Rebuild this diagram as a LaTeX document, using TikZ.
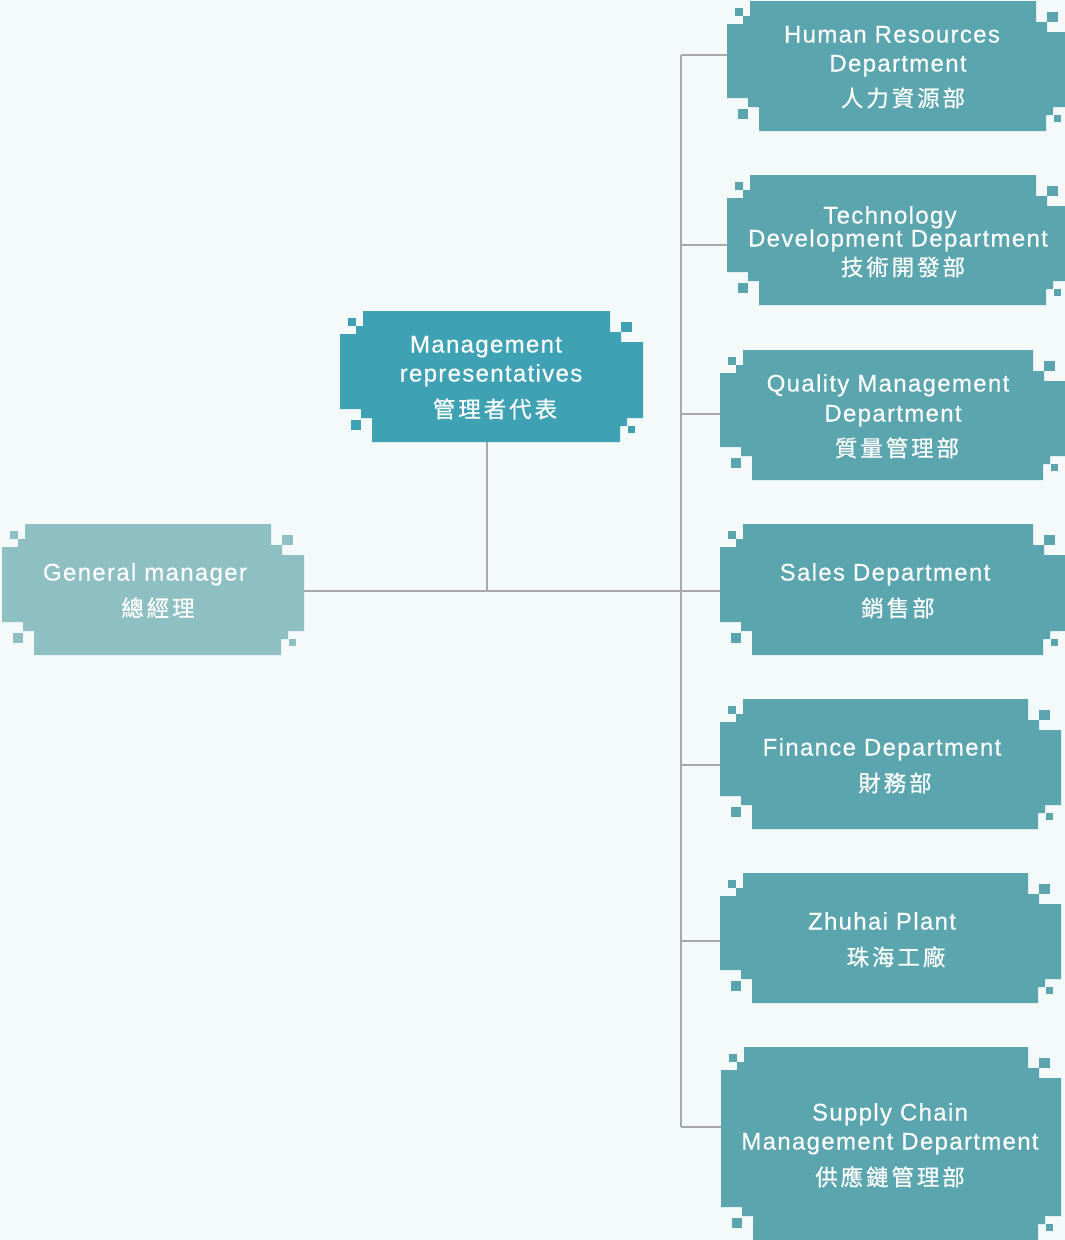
\documentclass[tikz,border=0pt]{standalone}
\usepackage{fontspec}
\setmainfont{Liberation Sans}
\newfontfamily\entxt[LetterSpace=5.5,FakeBold=0.35]{Liberation Sans}
\newfontfamily\cjktxt[LetterSpace=13,FakeBold=0.5]{Noto Sans CJK TC}
\usetikzlibrary{fit}
\definecolor{bgc}{HTML}{F3FAF9}
\definecolor{dept}{HTML}{5BA5AE}
\definecolor{rep}{HTML}{3FA2B4}
\definecolor{gmc}{HTML}{8EBFC3}
\definecolor{linec}{HTML}{A8A8A8}
\newcommand\orgshape[6]{%
 \fill[#6] ({#2+23},#3) -- ({#4-33},#3) -- ({#4-33},{#3+21}) -- ({#4-22},{#3+21}) -- ({#4-22},{#3+31}) -- (#4,{#3+31}) -- (#4,{#5-24}) -- ({#4-16},{#5-24}) -- ({#4-16},{#5-16}) -- ({#4-23},{#5-16}) -- ({#4-23},#5) -- ({#2+32},#5) -- ({#2+32},{#5-24}) -- ({#2+21},{#5-24}) -- ({#2+21},{#5-33}) -- (#2,{#5-33}) -- (#2,{#3+23}) -- ({#2+16},{#3+23}) -- ({#2+16},{#3+15}) -- ({#2+23},{#3+15}) -- cycle;
 \fill[#6] ({#2+8},{#3+7}) rectangle ({#2+16},{#3+15});
 \fill[#6] ({#4-22},{#3+11}) rectangle ({#4-11},{#3+21});
 \fill[#6] ({#2+11},{#5-22}) rectangle ({#2+21},{#5-12});
 \fill[#6] ({#4-15},{#5-16}) rectangle ({#4-8},{#5-9});
 \path (#2,#3) coordinate (#1-nw) (#4,#5) coordinate (#1-se);
 \node[fit=(#1-nw)(#1-se), inner sep=0pt] (#1) {};
}
\tikzset{
 en/.style={text=white, anchor=base, inner sep=0pt, font=\entxt\fontsize{24}{28}\selectfont},
 zh/.style={text=white, anchor=base, inner sep=0pt, font=\cjktxt\fontsize{22.5}{26}\selectfont},
 conn/.style={draw=linec, line width=1.5pt},
}
\begin{document}
\begin{tikzpicture}[x=1pt,y=-1pt]
\fill[bgc] (0,0) rectangle (1065,1240);
\useasboundingbox (0,0) rectangle (1065,1240);
% boxes
\orgshape{hr}{727}{1}{1069}{131}{dept}
\orgshape{tech}{727}{175}{1069}{305}{dept}
\orgshape{qm}{720}{350}{1066}{480}{dept}
\orgshape{sales}{720}{524}{1066}{655}{dept}
\orgshape{fin}{720}{699}{1061}{829}{dept}
\orgshape{zh}{720}{873}{1061}{1003}{dept}
\orgshape{scm}{721}{1047}{1061}{1240}{dept}
\orgshape{lm}{340}{311}{643}{442}{rep}
\orgshape{gm}{2}{524}{304}{655}{gmc}
% connectors
\coordinate (jtop) at (681,55);
\coordinate (jtech) at (681,245);
\coordinate (jqm) at (681,414);
\coordinate (jfin) at (681,765);
\coordinate (jzh) at (681,941);
\coordinate (jbot) at (681,1127);
\coordinate (jlm) at (487,591);
\draw[conn] (jtop) -- (jbot);
\draw[conn] (jtop) -- (jtop -| hr.west);
\draw[conn] (jtech) -- (jtech -| tech.west);
\draw[conn] (jqm) -- (jqm -| qm.west);
\draw[conn] (jfin) -- (jfin -| fin.west);
\draw[conn] (jzh) -- (jzh -| zh.west);
\draw[conn] (jbot) -- (jbot -| scm.west);
\draw[conn] (jlm -| gm.east) -- (jlm -| sales.west);
\draw[conn] (jlm |- lm.south) -- (jlm);
% texts
\node[en] (t-hr1) at (892,42.5) {Human Resources};
\node[en] (t-hr2) at (898,71.5) {Department};
\node[zh] (t-hr3) at (903,106.5) {人力資源部};
\node[en] (t-te1) at (890,223.5) {Technology};
\node[en] (t-te2) at (898,246.5) {Development Department};
\node[zh] (t-te3) at (903,275.5) {技術開發部};
\node[en] (t-qm1) at (888,391.5) {Quality Management};
\node[en] (t-qm2) at (893,421.5) {Department};
\node[zh] (t-qm3) at (897,456.5) {質量管理部};
\node[en] (t-sa1) at (885,580.5) {Sales Department};
\node[zh] (t-sa2) at (898,616.5) {銷售部};
\node[en] (t-fi1) at (882,755.5) {Finance Department};
\node[zh] (t-fi2) at (895,791.5) {財務部};
\node[en] (t-zh1) at (882,929.5) {Zhuhai Plant};
\node[zh] (t-zh2) at (896,965.5) {珠海工廠};
\node[en] (t-sc1) at (890,1120.5) {Supply Chain};
\node[en] (t-sc2) at (890,1149.5) {Management Department};
\node[zh] (t-sc3) at (890,1185.5) {供應鏈管理部};
\node[en] (t-lm1) at (486,352.5) {Management};
\node[en] (t-lm2) at (491,381.5) {representatives};
\node[zh] (t-lm3) at (495,417.5) {管理者代表};
\node[en] (t-gm1) at (145,580.5) {General manager};
\node[zh] (t-gm2) at (158,616.5) {總經理};
\end{tikzpicture}
\end{document}
